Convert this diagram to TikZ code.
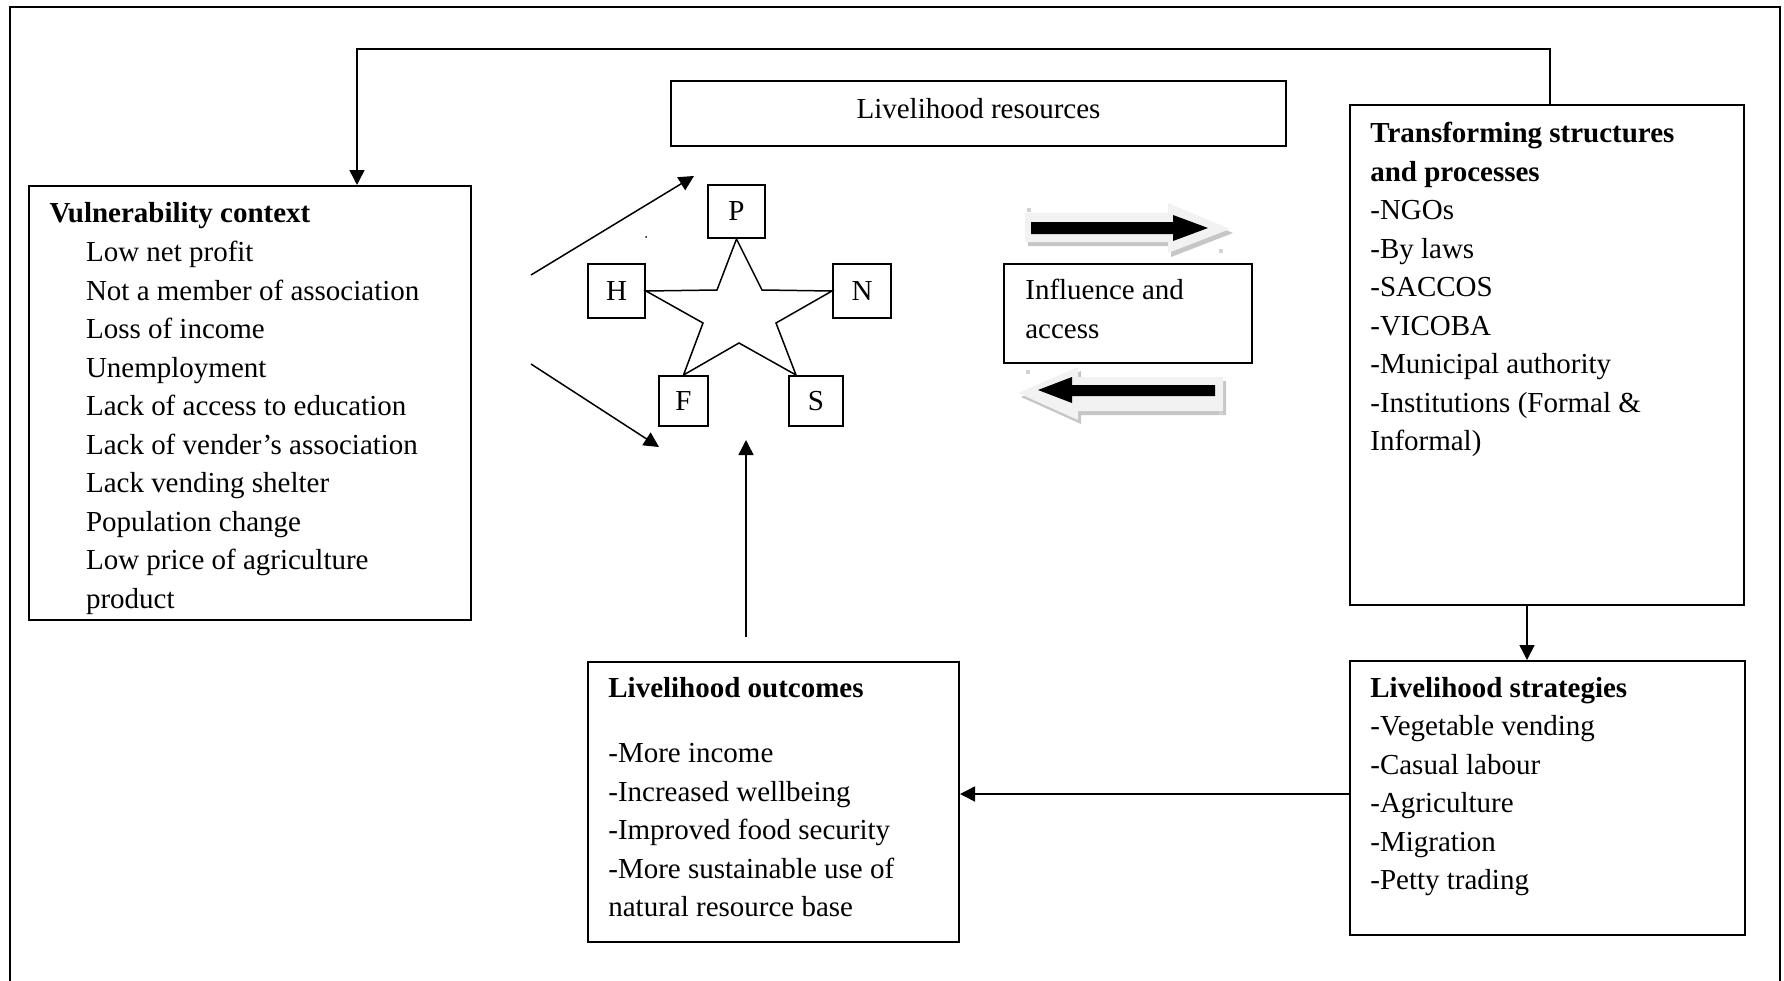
\documentclass[tikz,border=0pt]{standalone}
\usepackage{fontspec}
\setmainfont{Liberation Serif}
\usetikzlibrary{arrows.meta,fit,calc}

\begin{document}
\begin{tikzpicture}[x=0.02cm,y=-0.02cm,font=\fontsize{16.5}{21.9}\selectfont,
    box/.style={draw,line width=0.04cm,inner sep=0pt,fit={#1}},
    lbox/.style={draw,line width=0.04cm,inner sep=0pt},
    txt/.style={anchor=base west,align=left,inner sep=0pt},
    arr/.style={line width=0.03cm,-{Triangle[length=0.3cm,width=0.3cm]}},
    handle/.style={fill=gray!35}]
                \useasboundingbox (0,0) rectangle (1784,980);
                \draw[line width=0.045cm] (10,995) -- (10,7) -- (1780,7) -- (1780,995);
                \node[box={(671,81) (1286,146)}] (lres) {};
                \node[box={(29,186) (471,620)}] (vul) {};
                \node[box={(1350,105) (1744,605)}] (trans) {};
                \node[box={(1350,661) (1745,935)}] (strat) {};
                \node[box={(588,662) (959,942)}] (outc) {};
                \node[box={(1004,264) (1252,363)}] (infl) {};
                \node[lbox,minimum width=1.14cm,minimum height=1.06cm] (P) at (736.5,211.5) {P};
                \node[lbox,minimum width=1.14cm,minimum height=1.08cm] (H) at (616.5,291) {H};
                \node[lbox,minimum width=1.16cm,minimum height=1.08cm] (N) at (862,291) {N};
                \node[lbox,minimum width=0.98cm,minimum height=1cm] (F) at (683.5,401) {F};
                \node[lbox,minimum width=1.08cm,minimum height=1cm] (S) at (816,401) {S};
                \node[anchor=base,inner sep=0pt] (lrestx) at (978.5,118) {Livelihood resources};
                \node[txt] (vultl) at (49.3,222.7) {\textbf{Vulnerability context}};
                \node[txt] (vultx) at (85.7,608.2) {Low net profit\\Not a member of association\\Loss of income\\Unemployment\\Lack of access to education\\Lack of vender's association\\Lack vending shelter\\Population change\\Low price of agriculture\\product};
                \node[txt] (transtx) at (1370,450.5) {\textbf{Transforming structures}\\\textbf{and processes}\\-NGOs\\-By laws\\-SACCOS\\-VICOBA\\-Municipal authority\\-Institutions (Formal \&\\Informal)};
                \node[txt] (strattx) at (1370,889.5) {\textbf{Livelihood strategies}\\-Vegetable vending\\-Casual labour\\-Agriculture\\-Migration\\-Petty trading};
                \node[txt] (outctx) at (608,916.7) {\textbf{Livelihood outcomes}\\[0.53cm]-More income\\-Increased wellbeing\\-Improved food security\\-More sustainable use of\\natural resource base};
                \node[txt] (infltx) at (1025,338.3) {Influence and\\access};
                \draw[line width=0.03cm,line join=miter] (P.south) -- (762,290) -- (N.west) -- (776,323) -- ($(S.north west)+(8,0)$) -- (739,343) -- (F.north) -- (703,323) -- (H.east) -- (717,290) -- cycle;
                \coordinate (loopL) at (357,49);
                \coordinate (loopR) at (1550,49);
                \draw[arr] (trans.north -| loopR) -- (loopR) -- (loopL) -- (vul.north -| loopL);
                \coordinate (up0) at (531,275);
                \coordinate (up1) at (694,176);
                \coordinate (dn0) at (531,364);
                \coordinate (dn1) at (659,447);
                \coordinate (vt0) at (746,637);
                \coordinate (vt1) at (746,440);
                \draw[arr] (up0) -- (up1);
                \draw[arr] (dn0) -- (dn1);
                \draw[arr] (vt0) -- (vt1);
                \draw[arr] (trans.south -| 1527,0) -- (strat.north -| 1527,0);
                \draw[arr] (strat.west |- 0,794) -- (outc.east |- 0,794);
                \fill[gray!45,shift={(3,4)}] (1025,213) -- (1168,213) -- (1168,203) -- (1230,229) -- (1168,253) -- (1168,242) -- (1025,242) -- cycle;
                \fill[gray!10] (1025,213) -- (1168,213) -- (1168,203) -- (1230,229) -- (1168,253) -- (1168,242) -- (1025,242) -- cycle;
                \fill (1031,222) -- (1173,222) -- (1173,215) -- (1208,228) -- (1173,241) -- (1173,234) -- (1031,234) -- cycle;
                \fill[gray!45,shift={(3,4)}] (1223,377) -- (1078,377) -- (1078,367) -- (1018,393) -- (1078,420) -- (1078,411) -- (1223,411) -- cycle;
                \fill[gray!10] (1223,377) -- (1078,377) -- (1078,367) -- (1018,393) -- (1078,420) -- (1078,411) -- (1223,411) -- cycle;
                \fill (1215,385) -- (1072,385) -- (1072,377) -- (1038,390) -- (1072,403) -- (1072,396) -- (1215,396) -- cycle;
                \fill[handle] (1027,208) rectangle +(4,4);
                \fill[handle] (1219,249) rectangle +(4,4);
                \fill[handle] (1026,370) rectangle +(4,4);
                \fill[handle] (1219,411) rectangle +(4,4);
                \fill (646,237) circle (1);
            \end{tikzpicture}
\end{document}
